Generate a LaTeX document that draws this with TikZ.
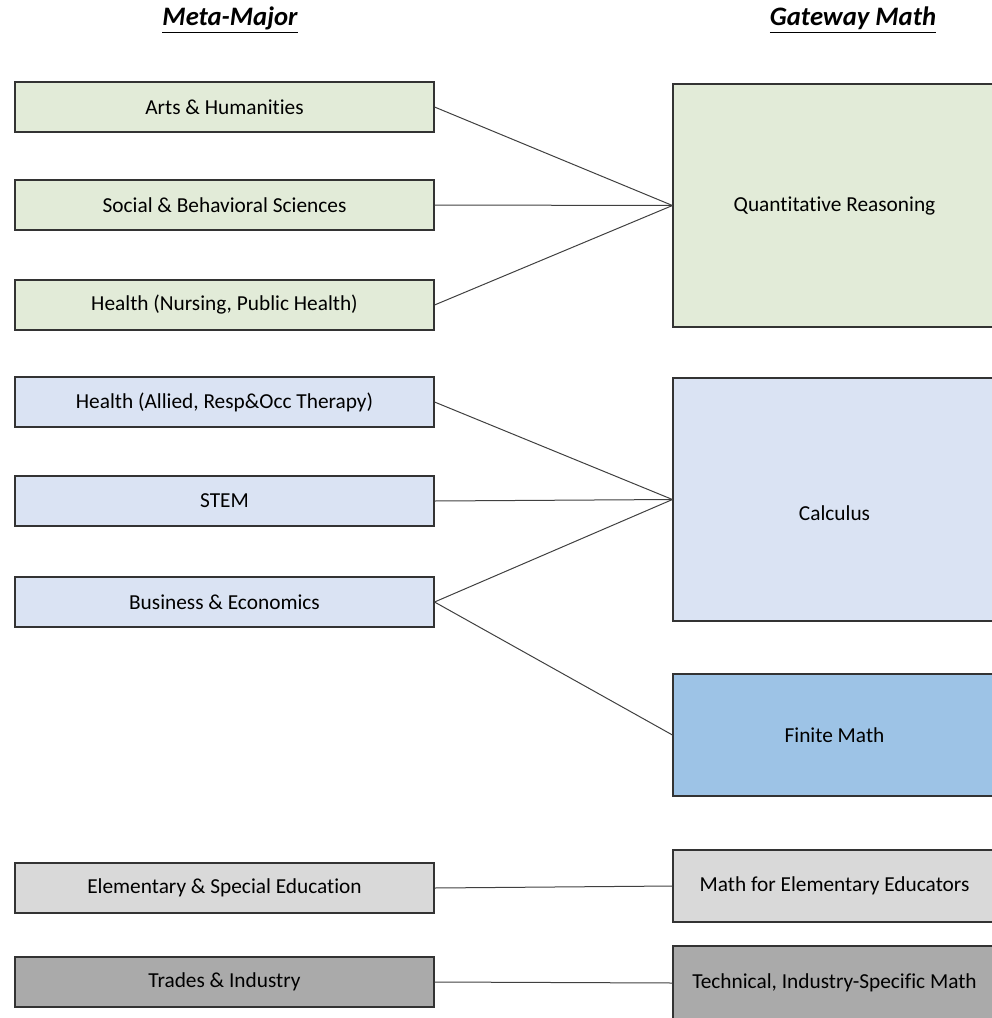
\documentclass[tikz,border=0pt]{standalone}
\usepackage{fontspec}
\setmainfont{Carlito}[Ligatures=NoCommon]
\usepackage{tikz}

\definecolor{grn}{HTML}{E2EBD8}
\definecolor{lblue}{HTML}{DAE3F3}
\definecolor{mblue}{HTML}{9DC3E6}
\definecolor{lgray}{HTML}{D9D9D9}
\definecolor{dgray}{HTML}{AAAAAA}

\begin{document}
\begin{tikzpicture}
        [x=0.75pt,y=-0.75pt,thick,
         every node/.style={rectangle,draw=black!80,line width=0.8pt,font=\fontsize{16}{19}\selectfont,inner sep=0pt},
         major/.style={minimum width=314.25pt,minimum height=37.5pt},
         gate/.style={minimum width=242.25pt},
         head/.style={draw=none,font=\fontsize{20}{24}\selectfont\bfseries\itshape},
         link/.style={draw=black!75,line width=0.75pt}]
        \useasboundingbox (0,0) rectangle (992,1018);
        \clip (0,0) rectangle (992,1018);

        \node[head] (mm) at (230,20) {\underline{Meta-Major}};
        \node[head] (gm) at (853,20) {\underline{Gateway Math}};

        \node[major,fill=grn] (arts) at (224.5,107) {Arts \& Humanities};
        \node[major,fill=grn] (soc) at (224.5,205) {Social \& Behavioral Sciences};
        \node[major,fill=grn] (nurs) at (224.5,305) {Health (Nursing, Public Health)};
        \node[major,fill=lblue] (allied) at (224.5,402) {Health (Allied, Resp\&Occ Therapy)};
        \node[major,fill=lblue] (stem) at (224.5,501) {STEM};
        \node[major,fill=lblue] (bus) at (224.5,602) {Business \& Economics};
        \node[major,fill=lgray] (elem) at (224.5,888) {Elementary \& Special Education};
        \node[major,fill=dgray] (trades) at (224.5,982) {Trades \& Industry};

        \node[gate,fill=grn,minimum height=182.25pt] (quant) at (834.5,205.5) {Quantitative Reasoning};
        \node[gate,fill=lblue,minimum height=182.25pt] (calc) at (834.5,499.5) {\raisebox{-16pt}[0pt][0pt]{Calculus}};
        \node[gate,fill=mblue,minimum height=91.5pt] (finite) at (834.5,735) {Finite Math};
        \node[gate,fill=lgray,minimum height=54pt] (mathel) at (834.5,886) {Math for Elementary Educators};
        \node[gate,fill=dgray,minimum height=55.5pt] (tech) at (834.5,983) {Technical, Industry-Specific Math};

        \path [link] (arts.east) edge (quant.west);
        \path [link] (soc.east) edge (quant.west);
        \path [link] (nurs.east) edge (quant.west);

        \path [link] (allied.east) edge (calc.west);
        \path [link] (stem.east) edge (calc.west);
        \path [link] (bus.east) edge (calc.west);
        \path [link] (bus.east) edge (finite.west);

        \path [link] (elem.east) edge (mathel.west);
        \path [link] (trades.east) edge (tech.west);
    \end{tikzpicture}
\end{document}
